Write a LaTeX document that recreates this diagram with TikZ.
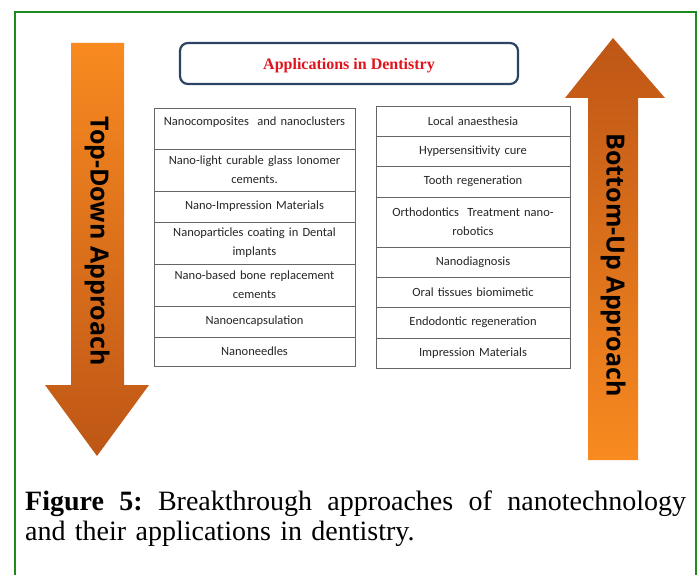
\documentclass[tikz,border=0pt]{standalone}
\usepackage{fontspec}
\setmainfont{Liberation Serif}
\newfontfamily\cellfont{Carlito}
\newfontfamily\arrowfont{Open Sans}
\usetikzlibrary{positioning}
\definecolor{framegreen}{RGB}{30,138,30}
\definecolor{boxblue}{RGB}{44,68,100}
\definecolor{titlered}{RGB}{225,20,30}
\definecolor{arrowlight}{RGB}{248,138,32}
\definecolor{arrowdark}{RGB}{190,86,22}

\begin{document}
\begin{tikzpicture}[x=1pt,y=-1pt,
      cell/.style={draw=black!60,line width=0.8pt,outer sep=0pt,inner sep=0pt,
        align=center,text=black!85,font=\cellfont\fontsize{12.5}{19}\selectfont},
      left cell/.style={cell,text width=195pt,minimum width=201pt},
      right cell/.style={cell,text width=188pt,minimum width=194pt},
      arrow text/.style={rotate=-90,font=\arrowfont\bfseries\fontsize{25}{25}\selectfont}]
      \fill[white] (0,0) rectangle (699,575);
      \useasboundingbox (0,0) rectangle (699,575);
      \clip (0,0) rectangle (699,575);
      \draw[framegreen,line width=2.3pt] (15,12) rectangle (696,620);

      % title
      \node[draw=boxblue,line width=2.2pt,rounded corners=8pt,fill=white,
        minimum width=338pt,minimum height=41pt,text depth=0pt,
        font=\bfseries\fontsize{16}{16}\selectfont,text=titlered] (title) at (349,63.5)
        {Applications in Dentistry};

      % the two approaches
      \shade[top color=arrowlight,bottom color=arrowdark]
        (71,43) -- (124,43) -- (124,385) -- (149,385) -- (97,456)
        -- (45,385) -- (71,385) -- cycle;
      \shade[top color=arrowdark,bottom color=arrowlight]
        (613,38) -- (665,98) -- (638,98) -- (638,460) -- (588,460)
        -- (588,98) -- (565,98) -- cycle;
      \node[arrow text] (topdown) at (97,241) {Top-Down Approach};
      \node[arrow text] (bottomup) at (613,265) {Bottom-Up Approach};

      % left column
      \node[left cell,minimum height=41pt,anchor=north west] (l1) at (154,108)
        {Nanocomposites\ \ and nanoclusters\\[-5pt] \mbox{}};
      \node[left cell,minimum height=42pt] (l2) [below=0pt of l1]
        {Nano-light curable glass Ionomer\\cements.};
      \node[left cell,minimum height=31pt] (l3) [below=0pt of l2]
        {Nano-Impression Materials};
      \node[left cell,minimum height=42pt] (l4) [below=0pt of l3]
        {Nanoparticles coating in Dental\\implants};
      \node[left cell,minimum height=42pt] (l5) [below=0pt of l4]
        {Nano-based bone replacement\\cements};
      \node[left cell,minimum height=31pt] (l6) [below=0pt of l5]
        {Nanoencapsulation};
      \node[left cell,minimum height=29pt] (l7) [below=0pt of l6]
        {Nanoneedles};

      % right column
      \node[right cell,minimum height=30pt,anchor=north west] (r1) at (376,106)
        {Local anaesthesia};
      \node[right cell,minimum height=30pt] (r2) [below=0pt of r1]
        {Hypersensitivity cure};
      \node[right cell,minimum height=31pt] (r3) [below=0pt of r2]
        {Tooth regeneration};
      \node[right cell,minimum height=50pt] (r4) [below=0pt of r3]
        {Orthodontics\ \ Treatment nano-\\robotics};
      \node[right cell,minimum height=30pt] (r5) [below=0pt of r4]
        {Nanodiagnosis};
      \node[right cell,minimum height=30pt] (r6) [below=0pt of r5]
        {Oral tissues biomimetic};
      \node[right cell,minimum height=31pt] (r7) [below=0pt of r6]
        {Endodontic regeneration};
      \node[right cell,minimum height=30pt] (r8) [below=0pt of r7]
        {Impression Materials};

      % caption
      \node[anchor=north west,inner sep=0pt,text width=661pt,align=left,
        font=\fontsize{28}{30}\selectfont] (caption) at (25,491)
        {\hbox to 661pt{\textbf{Figure}\hfill\textbf{5:}\hfill Breakthrough\hfill
          approaches\hfill of\hfill nanotechnology}\\
         and their applications in dentistry.};
\end{tikzpicture}
\end{document}
